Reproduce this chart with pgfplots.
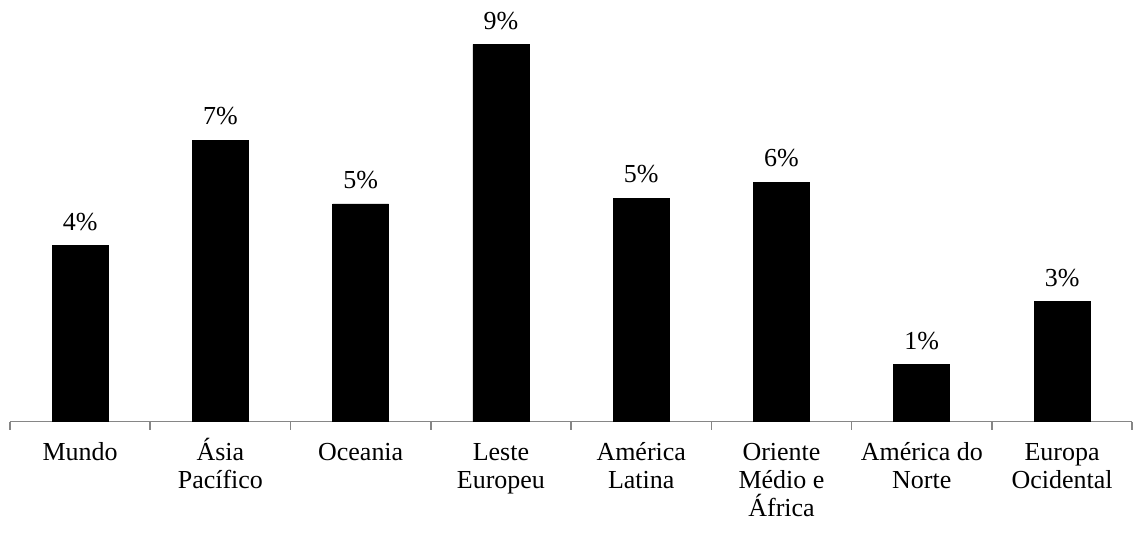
\documentclass[border=0pt]{standalone}
\usepackage{fontspec}
\setmainfont{Liberation Serif}
\usepackage{pgfplots}
\pgfplotsset{compat=1.18}
\definecolor{axisgray}{HTML}{868686}
% first line of every category label gets the same height, so baselines line up
\newcommand{\fl}{\rule{0pt}{12pt}}
\begin{document}
\begin{tikzpicture}
\begin{axis}[
  scale only axis,
  width=561.5pt, height=211pt,
  xmin=-0.5, xmax=7.5,
  ymin=0, ymax=10.05,
  clip=false,
  axis y line=none,
  axis x line*=bottom,
  x axis line style={axisgray, line width=0.8pt, -},
  xtick={0,...,7},
  xticklabels={\fl Mundo, \fl Ásia\\Pacífico, \fl Oceania, \fl Leste\\Europeu, \fl América\\Latina, \fl Oriente\\Médio e\\África, \fl América do\\Norte, \fl Europa\\Ocidental},
  xticklabel style={align=center, font=\fontsize{13}{14}\selectfont, anchor=north, yshift=-4pt},
  major tick length=0pt,
  minor xtick={-0.5,0.5,...,7.5},
  minor tick length=4pt,
  tick align=outside,
  minor tick style={axisgray, line width=0.8pt},
  ybar, bar width=28pt,
  /pgf/number format/assume math mode=true,
  nodes near coords={\pgfmathprintnumber[fixed,precision=0]{\pgfplotspointmeta}\%},
  every node near coord/.append style={font=\fontsize{13}{14}\selectfont, black, yshift=4pt},
]
\addplot[fill=black, draw=black] coordinates {
  (0,4.19) (1,6.71) (2,5.19) (3,8.99) (4,5.33) (5,5.71) (6,1.36) (7,2.86)
};
\end{axis}
\useasboundingbox (-5pt,-58.5pt) rectangle (561.5pt,211pt);
\end{tikzpicture}
\end{document}
